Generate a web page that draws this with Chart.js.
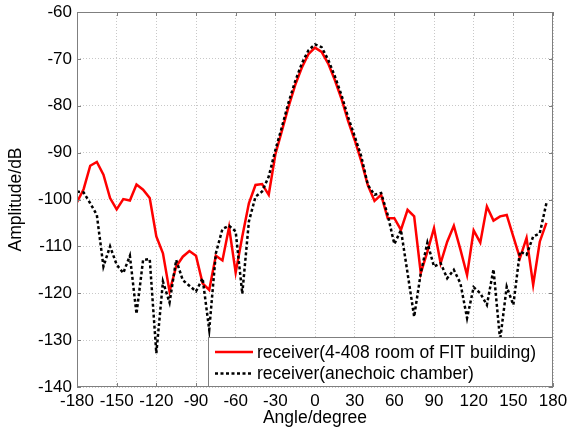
<!DOCTYPE html>
<html>
<head>
<meta charset="utf-8">
<script src="https://cdn.jsdelivr.net/npm/chart.js@4.4.1/dist/chart.umd.min.js"></script>
<style>
  html, body { margin: 0; padding: 0; background: #fff; }
  #beamChart { display: block; }
</style>
</head>
<body>
<canvas id="beamChart" width="576" height="432"></canvas>
<script>
// angle of each sample, degrees
const angles = [
  -180, -175, -170, -165, -160, -155, -150, -145, -140, -135, -130, -125,
  -120, -115, -110, -105, -100, -95, -90, -85, -80, -75, -70, -65,
  -60, -55, -50, -45, -40, -35, -30, -25, -20, -15, -10, -5,
  0, 5, 10, 15, 20, 25, 30, 35, 40, 45, 50, 55,
  60, 65, 70, 75, 80, 85, 90, 95, 100, 105, 110, 115,
  120, 125, 130, 135, 140, 145, 150, 155, 160, 165, 170, 175
];

// receiver in room 4-408, dB
const roomValues = [
  -100.6, -97.8, -92.8, -92.0, -94.7, -99.7, -102.1, -99.9, -100.2, -96.8, -97.9, -99.7,
  -107.9, -111.5, -119.6, -114.3, -112.2, -111.0, -112.0, -117.9, -119.3, -112.0, -113.0, -105.9,
  -115.6, -107.9, -100.8, -96.9, -96.7, -99.0, -90.4, -85.3, -80.2, -75.6, -71.9, -69.0,
  -67.6, -68.5, -71.0, -74.5, -78.5, -83.2, -87.3, -91.8, -97.0, -100.3, -99.0, -104.0,
  -104.0, -106.5, -102.2, -103.6, -115.7, -111.1, -106.1, -113.6, -109.0, -105.6, -110.7, -116.1,
  -106.6, -109.2, -101.5, -104.5, -103.6, -103.3, -107.9, -112.5, -108.2, -118.2, -109.0, -105.0
];

// receiver in anechoic chamber, dB
const chamberValues = [
  -98.3, -98.5, -100.8, -103.3, -114.3, -110.0, -113.9, -115.7, -112.0, -124.4, -112.9, -112.7,
  -132.8, -117.5, -122.0, -112.9, -117.2, -118.4, -119.6, -116.8, -127.8, -111.5, -106.3, -105.6,
  -106.8, -120.1, -104.7, -99.4, -98.3, -95.1, -89.5, -84.5, -79.3, -74.8, -71.0, -68.2,
  -66.9, -67.5, -70.2, -73.7, -77.7, -82.4, -86.5, -90.8, -96.9, -99.0, -98.6, -103.3,
  -109.5, -106.5, -115.7, -125.0, -115.7, -109.2, -114.3, -113.6, -116.8, -115.0, -117.9, -125.3,
  -118.7, -120.0, -122.5, -114.9, -130.0, -118.6, -122.5, -111.1, -111.8, -107.9, -107.2, -100.8
];

const xTicks = [-180, -150, -120, -90, -60, -30, 0, 30, 60, 90, 120, 150, 180];
const yTicks = [-140, -130, -120, -110, -100, -90, -80, -70, -60];
const seriesLabels = ['receiver(4-408 room of FIT building)', 'receiver(anechoic chamber)'];

const FONT = "'Liberation Sans', Arial, sans-serif";
const BOX = '#7f7f7f';

// axes box with inward ticks on all sides, then the legend in the lower right
const boxLegend = {
  id: 'boxLegend',
  afterDatasetsDraw(chart) {
    const { ctx, chartArea: a, scales } = chart;
    ctx.save();
    ctx.strokeStyle = BOX;
    ctx.lineWidth = 1;
    ctx.setLineDash([]);
    ctx.strokeRect(a.left + 0.5, a.top + 0.5, a.right - a.left - 1, a.bottom - a.top - 1);
    const tl = 4;
    ctx.beginPath();
    xTicks.forEach(v => {
      const x = Math.round(scales.x.getPixelForValue(v)) + 0.5;
      ctx.moveTo(x, a.bottom); ctx.lineTo(x, a.bottom - tl);
      ctx.moveTo(x, a.top); ctx.lineTo(x, a.top + tl);
    });
    yTicks.forEach(v => {
      const y = Math.round(scales.y.getPixelForValue(v)) + 0.5;
      ctx.moveTo(a.left, y); ctx.lineTo(a.left + tl, y);
      ctx.moveTo(a.right, y); ctx.lineTo(a.right - tl, y);
    });
    ctx.stroke();

    // legend
    const lw = 345, lh = 50;
    const lx = a.right - lw, ly = a.bottom - lh;
    ctx.fillStyle = '#fff';
    ctx.fillRect(lx, ly, lw, lh);
    ctx.strokeStyle = BOX;
    ctx.strokeRect(lx + 0.5, ly + 0.5, lw - 1, lh - 1);
    ctx.font = '17.5px ' + FONT;
    ctx.textBaseline = 'middle';
    chart.data.datasets.forEach((ds, i) => {
      const y = ly + 15 + i * 21.5;
      ctx.strokeStyle = ds.borderColor;
      ctx.lineWidth = ds.borderWidth;
      ctx.setLineDash(ds.borderDash || []);
      ctx.beginPath();
      ctx.moveTo(lx + 7, y); ctx.lineTo(lx + 45, y);
      ctx.stroke();
      ctx.setLineDash([]);
      ctx.fillStyle = '#000';
      ctx.fillText(ds.label, lx + 49, y + 1);
    });
    ctx.restore();
  }
};

const ctx = document.getElementById('beamChart').getContext('2d');
new Chart(ctx, {
  type: 'line',
  data: {
    datasets: [
      {
        label: seriesLabels[0],
        data: angles.map((a, i) => ({ x: a, y: roomValues[i] })),
        borderColor: '#ff0000',
        borderWidth: 2.5,
        pointRadius: 0,
        tension: 0,
        order: 2
      },
      {
        label: seriesLabels[1],
        data: angles.map((a, i) => ({ x: a, y: chamberValues[i] })),
        borderColor: '#000000',
        borderWidth: 2.5,
        borderDash: [3, 2.5],
        pointRadius: 0,
        tension: 0,
        order: 1
      }
    ]
  },
  options: {
    responsive: false,
    animation: false,
    layout: { padding: { top: 12, right: 23, left: 0, bottom: 0 } },
    plugins: {
      legend: { display: false },
      tooltip: { enabled: false }
    },
    scales: {
      x: {
        type: 'linear',
        min: -180,
        max: 180,
        afterBuildTicks: s => { s.ticks = xTicks.map(v => ({ value: v })); },
        afterFit: s => { s.height = 45; s.paddingLeft = 0; s.paddingRight = 0; },
        grid: { color: '#c8c8c8', lineWidth: 1, drawTicks: false },
        border: { display: false, dash: [1, 2] },
        ticks: { color: '#000', padding: 4, maxRotation: 0, autoSkip: false, font: { family: FONT, size: 17 } },
        title: { display: true, text: 'Angle/degree', color: '#000', padding: { top: 0, bottom: 3 }, font: { family: FONT, size: 17.5 } }
      },
      y: {
        min: -140,
        max: -60,
        afterBuildTicks: s => { s.ticks = yTicks.map(v => ({ value: v })); },
        afterFit: s => { s.width = 77; s.paddingTop = 0; s.paddingBottom = 0; },
        grid: { color: '#c8c8c8', lineWidth: 1, drawTicks: false },
        border: { display: false, dash: [1, 2] },
        ticks: { color: '#000', padding: 5, font: { family: FONT, size: 17 } },
        title: { display: true, text: 'Amplitude/dB', color: '#000', padding: { top: 6, bottom: 0 }, font: { family: FONT, size: 17.5 } }
      }
    }
  },
  plugins: [boxLegend]
});
</script>
</body>
</html>
